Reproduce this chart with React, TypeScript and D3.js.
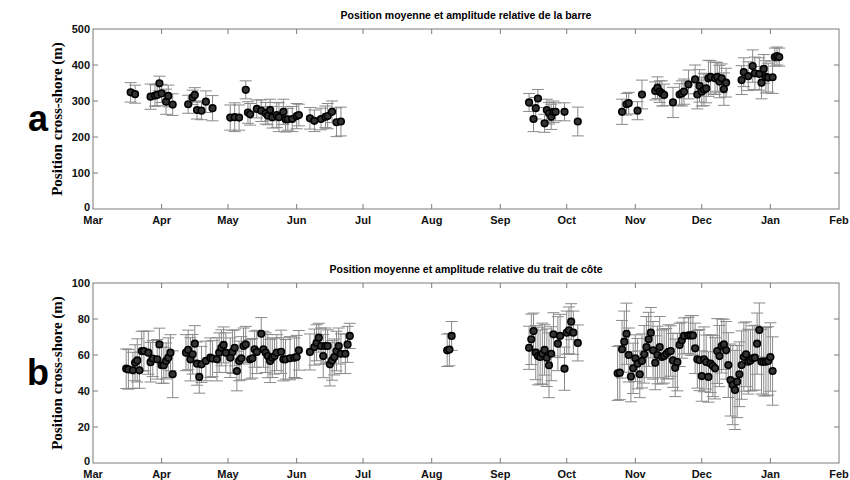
import React from 'react';
import * as d3 from 'd3';

// axis ticks
const monthTicks = ['2003-03-01', '2003-04-01', '2003-05-01', '2003-06-01', '2003-07-01', '2003-08-01',
  '2003-09-01', '2003-10-01', '2003-11-01', '2003-12-01', '2004-01-01', '2004-02-01'];
const monthLabels = ['Mar', 'Apr', 'May', 'Jun', 'Jul', 'Aug', 'Sep', 'Oct', 'Nov', 'Dec', 'Jan', 'Feb'];
const barTicks = [0, 100, 200, 300, 400, 500];
const shoreTicks = [0, 20, 40, 60, 80, 100];

// (a) bar position: date, mean, half amplitude
const barDates = [
  '2003-03-18', '2003-03-20', '2003-03-27', '2003-03-29', '2003-03-30', '2003-03-31', '2003-04-01', '2003-04-03',
  '2003-04-04', '2003-04-06', '2003-04-13', '2003-04-15', '2003-04-16', '2003-04-17', '2003-04-19', '2003-04-21',
  '2003-04-24', '2003-05-02', '2003-05-04', '2003-05-06', '2003-05-09', '2003-05-10', '2003-05-11', '2003-05-14',
  '2003-05-16', '2003-05-18', '2003-05-19', '2003-05-20', '2003-05-21', '2003-05-23', '2003-05-24', '2003-05-26',
  '2003-05-27', '2003-05-28', '2003-05-30', '2003-06-01', '2003-06-02', '2003-06-07', '2003-06-09', '2003-06-12',
  '2003-06-14', '2003-06-15', '2003-06-17', '2003-06-19', '2003-06-21',
  '2003-09-14', '2003-09-16', '2003-09-17', '2003-09-18', '2003-09-21', '2003-09-22', '2003-09-23', '2003-09-24',
  '2003-09-25', '2003-09-26', '2003-09-30', '2003-10-06', '2003-10-26', '2003-10-28', '2003-10-29', '2003-11-02',
  '2003-11-04', '2003-11-10', '2003-11-11', '2003-11-12', '2003-11-13', '2003-11-14', '2003-11-18', '2003-11-21',
  '2003-11-22', '2003-11-23', '2003-11-25', '2003-11-28', '2003-11-29', '2003-11-30', '2003-12-01', '2003-12-02',
  '2003-12-03', '2003-12-04', '2003-12-05', '2003-12-07', '2003-12-08', '2003-12-09', '2003-12-10', '2003-12-11',
  '2003-12-12', '2003-12-19', '2003-12-20', '2003-12-22', '2003-12-24', '2003-12-25', '2003-12-27', '2003-12-28',
  '2003-12-29', '2003-12-30', '2003-12-31', '2004-01-02', '2004-01-03', '2004-01-04', '2004-01-05'];
const barMean = [
  324, 319, 312, 315, 317, 349, 321, 298, 314, 290, 291, 310, 317, 275, 273, 298,
  280, 254, 255, 254, 331, 268, 263, 278, 273, 266, 259, 275, 255, 261, 255, 270,
  249, 249, 250, 258, 261, 252, 245, 250, 256, 258, 270, 241, 243,
  296, 250, 280, 307, 238, 275, 266, 256, 270, 270, 270, 243, 270, 291, 294, 273,
  318, 328, 337, 326, 321, 317, 296, 318, 321, 326, 346, 360, 318, 342, 326, 332,
  335, 363, 367, 363, 367, 354, 363, 333, 351, 358, 380, 369, 397, 377, 375, 351,
  389, 367, 365, 366, 422, 425, 422];
const barErr = [
  27, 25, 35, 30, 30, 20, 25, 35, 30, 30, 25, 20, 20, 25, 25, 30,
  35, 35, 40, 35, 25, 30, 30, 25, 30, 30, 25, 30, 30, 35, 40, 35,
  35, 30, 35, 35, 30, 30, 30, 30, 30, 35, 30, 40, 40,
  25, 35, 30, 25, 25, 30, 30, 35, 30, 25, 25, 40, 35, 30, 30, 25,
  40, 25, 30, 30, 35, 30, 42, 30, 35, 35, 40, 40, 40, 45, 40, 45,
  40, 50, 45, 45, 40, 45, 40, 45, 40, 40, 40, 40, 45, 45, 45, 45,
  40, 45, 40, 45, 25, 25, 25];

// (b) shoreline position: date, mean, half amplitude
const shoreDates = [
  '2003-03-16', '2003-03-17', '2003-03-19', '2003-03-20', '2003-03-21', '2003-03-22', '2003-03-23', '2003-03-24',
  '2003-03-26', '2003-03-27', '2003-03-28', '2003-03-30', '2003-03-31', '2003-04-01', '2003-04-02', '2003-04-03',
  '2003-04-04', '2003-04-05', '2003-04-06', '2003-04-12', '2003-04-13', '2003-04-14', '2003-04-15', '2003-04-16',
  '2003-04-17', '2003-04-18', '2003-04-19', '2003-04-21', '2003-04-23', '2003-04-24', '2003-04-26', '2003-04-27',
  '2003-04-28', '2003-04-29', '2003-04-30', '2003-05-02', '2003-05-03', '2003-05-04', '2003-05-05', '2003-05-06',
  '2003-05-07', '2003-05-08', '2003-05-09', '2003-05-11', '2003-05-12', '2003-05-13', '2003-05-14', '2003-05-16',
  '2003-05-17', '2003-05-18', '2003-05-19', '2003-05-20', '2003-05-21', '2003-05-22', '2003-05-23', '2003-05-25',
  '2003-05-26', '2003-05-27', '2003-05-29', '2003-05-31', '2003-06-01', '2003-06-02', '2003-06-07', '2003-06-09',
  '2003-06-10', '2003-06-11', '2003-06-12', '2003-06-13', '2003-06-14', '2003-06-15', '2003-06-16', '2003-06-17',
  '2003-06-18', '2003-06-19', '2003-06-20', '2003-06-21', '2003-06-23', '2003-06-24', '2003-06-25',
  '2003-08-08', '2003-08-09', '2003-08-10',
  '2003-09-14', '2003-09-15', '2003-09-16', '2003-09-17', '2003-09-18', '2003-09-19', '2003-09-20', '2003-09-21',
  '2003-09-22', '2003-09-23', '2003-09-24', '2003-09-25', '2003-09-27', '2003-09-28', '2003-09-30', '2003-10-01',
  '2003-10-02', '2003-10-03', '2003-10-04', '2003-10-06',
  '2003-10-24', '2003-10-25', '2003-10-26', '2003-10-27', '2003-10-28', '2003-10-29', '2003-10-30', '2003-10-31',
  '2003-11-01', '2003-11-02', '2003-11-03', '2003-11-04', '2003-11-05', '2003-11-06', '2003-11-07', '2003-11-08',
  '2003-11-09', '2003-11-10', '2003-11-11', '2003-11-12', '2003-11-13', '2003-11-14', '2003-11-15', '2003-11-16',
  '2003-11-17', '2003-11-18', '2003-11-19', '2003-11-20', '2003-11-21', '2003-11-22', '2003-11-23', '2003-11-25',
  '2003-11-26', '2003-11-27', '2003-11-28', '2003-11-29', '2003-11-30', '2003-12-01', '2003-12-02', '2003-12-03',
  '2003-12-04', '2003-12-05', '2003-12-06', '2003-12-07', '2003-12-08', '2003-12-09', '2003-12-10', '2003-12-11',
  '2003-12-12', '2003-12-13', '2003-12-14', '2003-12-15', '2003-12-16', '2003-12-17', '2003-12-18', '2003-12-19',
  '2003-12-20', '2003-12-21', '2003-12-22', '2003-12-23', '2003-12-24', '2003-12-25', '2003-12-26', '2003-12-27',
  '2003-12-28', '2003-12-29', '2003-12-30', '2003-12-31', '2004-01-01', '2004-01-02'];
const shoreMean = [
  52.4, 52, 51.5, 55.7, 57, 51.5, 62.2, 62.2, 61.3, 56, 58, 57.6, 65.9, 54.3, 54.3, 56.7,
  58.5, 61.3, 49.3, 61.3, 62.8, 57.6, 60.4, 66.3, 55.2, 47.8, 54.8, 56.7, 58.5, 58, 57.6, 61.3,
  64, 65.6, 61.3, 58.5, 61.7, 64, 51.1, 56.7, 58.2, 65, 65.9, 57.6, 58.2, 63.2, 61.7, 71.8,
  63.2, 61.3, 59.4, 56.7, 58.5, 59.4, 61.3, 61.8, 57.6, 57.6, 58.2, 58.5, 58.9, 62.6, 61.7, 64.4,
  66.8, 69.6, 65, 59.4, 65, 65, 54.8, 57, 58.9, 62.2, 65, 60.7, 60.7, 65.9, 70.6,
  62.6, 63, 70.6,
  64, 68.7, 73.3, 61.3, 59.4, 58.9, 60.7, 62.8, 58.5, 54.3, 60.7, 71.5, 66.3, 70.6, 52.4, 72.4,
  73.7, 78.5, 72.4, 66.7,
  49.8, 50.2, 63.2, 67.4, 71.8, 60, 48, 52.6, 58.2, 55.2, 49.3, 56.7, 60.4, 64.4, 68.7, 72.4,
  62.6, 55.7, 60, 64.4, 58.9, 59.4, 60.7, 61.8, 62.2, 57, 52.9, 56.1, 65.6, 68.2, 70.6, 70.9,
  70.9, 70.9, 63.7, 57.6, 57.2, 48.3, 57.6, 56.1, 47.8, 55.2, 53.9, 52.6, 62.2, 59.4, 65, 65.9,
  62.6, 54.4, 46.1, 43.3, 40.6, 45.2, 49.3, 54.4, 58.9, 60.4, 56.3, 57, 58.2, 58.5, 66.3, 73.9,
  56.3, 56.3, 56.3, 56.7, 58.9, 51.1];
const shoreErr = [
  11, 11, 10, 10, 12, 10, 11, 11, 12, 11, 10, 11, 9, 10, 10, 10,
  11, 10, 13, 10, 11, 12, 11, 10, 12, 9, 10, 11, 11, 10, 12, 11,
  10, 10, 11, 11, 12, 10, 11, 11, 12, 10, 10, 11, 11, 10, 12, 9,
  10, 11, 12, 12, 11, 10, 10, 12, 12, 11, 12, 11, 12, 11, 10, 10,
  10, 8, 10, 12, 10, 9, 12, 11, 10, 11, 10, 11, 11, 10, 7,
  9, 9, 8,
  12, 14, 10, 15, 16, 15, 17, 14, 16, 18, 15, 12, 15, 12, 12, 12,
  13, 10, 12, 10,
  15, 15, 16, 17, 17, 15, 14, 14, 13, 14, 13, 15, 16, 17, 15, 14,
  16, 15, 16, 17, 15, 15, 14, 15, 14, 15, 16, 16, 12, 10, 10, 10,
  11, 11, 14, 16, 17, 14, 18, 15, 14, 16, 17, 17, 18, 17, 15, 14,
  16, 18, 20, 22, 22, 20, 18, 19, 19, 18, 18, 17, 18, 18, 17, 15,
  18, 19, 19, 19, 19, 19];

const X0 = 93;
const X1 = 839;
const sans = 'Liberation Sans, Arial, sans-serif';

type PanelProps = {
  top: number; bottom: number; yMax: number; yTicks: number[];
  title: string; letter: string;
  dates: string[]; mean: number[]; err: number[];
};

function Panel({ top, bottom, yMax, yTicks, title, letter, dates, mean, err }: PanelProps) {
  const x = d3.scaleUtc()
    .domain([new Date(monthTicks[0]), new Date(monthTicks[monthTicks.length - 1])])
    .range([X0, X1]);
  const y = d3.scaleLinear().domain([0, yMax]).range([bottom, top]);
  const axis = '#7a7a7a';
  const tl = 5;
  const cap = 6;
  const pts = dates.map((d, i) => ({ x: x(new Date(d)), m: mean[i], e: err[i] }));
  const midY = (top + bottom) / 2;

  return (
    <g>
      <text x={(X0 + X1) / 2} y={top - 10} textAnchor="middle" fontFamily={sans} fontWeight="bold" fontSize={10.5}>{title}</text>
      <text x={38} y={midY + 12} textAnchor="middle" fontFamily={sans} fontWeight="bold" fontSize={36}>{letter}</text>
      <text transform={`translate(62,${midY}) rotate(-90)`} textAnchor="middle" fontFamily="Liberation Serif, Times New Roman, serif"
        fontWeight="bold" fontSize={15}>Position cross-shore (m)</text>

      {/* error bars */}
      <g stroke="#8a8a8a" strokeWidth={1} fill="none">
        {pts.map((p, i) => (
          <g key={i}>
            <line x1={p.x} x2={p.x} y1={y(p.m + p.e)} y2={y(p.m - p.e)} />
            <line x1={p.x - cap} x2={p.x + cap} y1={y(p.m + p.e)} y2={y(p.m + p.e)} />
            <line x1={p.x - cap} x2={p.x + cap} y1={y(p.m - p.e)} y2={y(p.m - p.e)} />
          </g>
        ))}
      </g>
      {/* markers */}
      <g>
        {pts.map((p, i) => (
          <circle key={i} cx={p.x} cy={y(p.m)} r={3.3} fill="#333" stroke="#000" strokeWidth={1.6} />
        ))}
      </g>

      {/* box and ticks */}
      <rect x={X0} y={top} width={X1 - X0} height={bottom - top} fill="none" stroke={axis} strokeWidth={1} />
      <g stroke={axis} strokeWidth={1}>
        {monthTicks.slice(1, -1).map((d) => (
          <g key={d}>
            <line x1={x(new Date(d))} x2={x(new Date(d))} y1={bottom} y2={bottom - tl} />
            <line x1={x(new Date(d))} x2={x(new Date(d))} y1={top} y2={top + tl} />
          </g>
        ))}
        {yTicks.slice(1, -1).map((t) => (
          <g key={t}>
            <line x1={X0} x2={X0 + tl} y1={y(t)} y2={y(t)} />
            <line x1={X1} x2={X1 - tl} y1={y(t)} y2={y(t)} />
          </g>
        ))}
      </g>
      <g fontFamily={sans} fontWeight="bold" fontSize={11} fill="#111">
        {monthTicks.map((d, i) => (
          <text key={d} x={x(new Date(d))} y={bottom + 15} textAnchor="middle">{monthLabels[i]}</text>
        ))}
        {yTicks.map((t) => (
          <text key={t} x={X0 - 3} y={y(t) + (t === 0 ? 2 : 4)} textAnchor="end">{t}</text>
        ))}
      </g>
    </g>
  );
}

export default function App() {
  return (
    <svg width={850} height={480} style={{ position: 'absolute', left: 0, top: 0, background: '#fff' }}>
      <rect width={850} height={480} fill="#fff" />
      <Panel top={29} bottom={209} yMax={500} yTicks={barTicks}
        title="Position moyenne et amplitude relative de la barre" letter="a"
        dates={barDates} mean={barMean} err={barErr} />
      <Panel top={283} bottom={463} yMax={100} yTicks={shoreTicks}
        title="Position moyenne et amplitude relative du trait de côte" letter="b"
        dates={shoreDates} mean={shoreMean} err={shoreErr} />
    </svg>
  );
}
